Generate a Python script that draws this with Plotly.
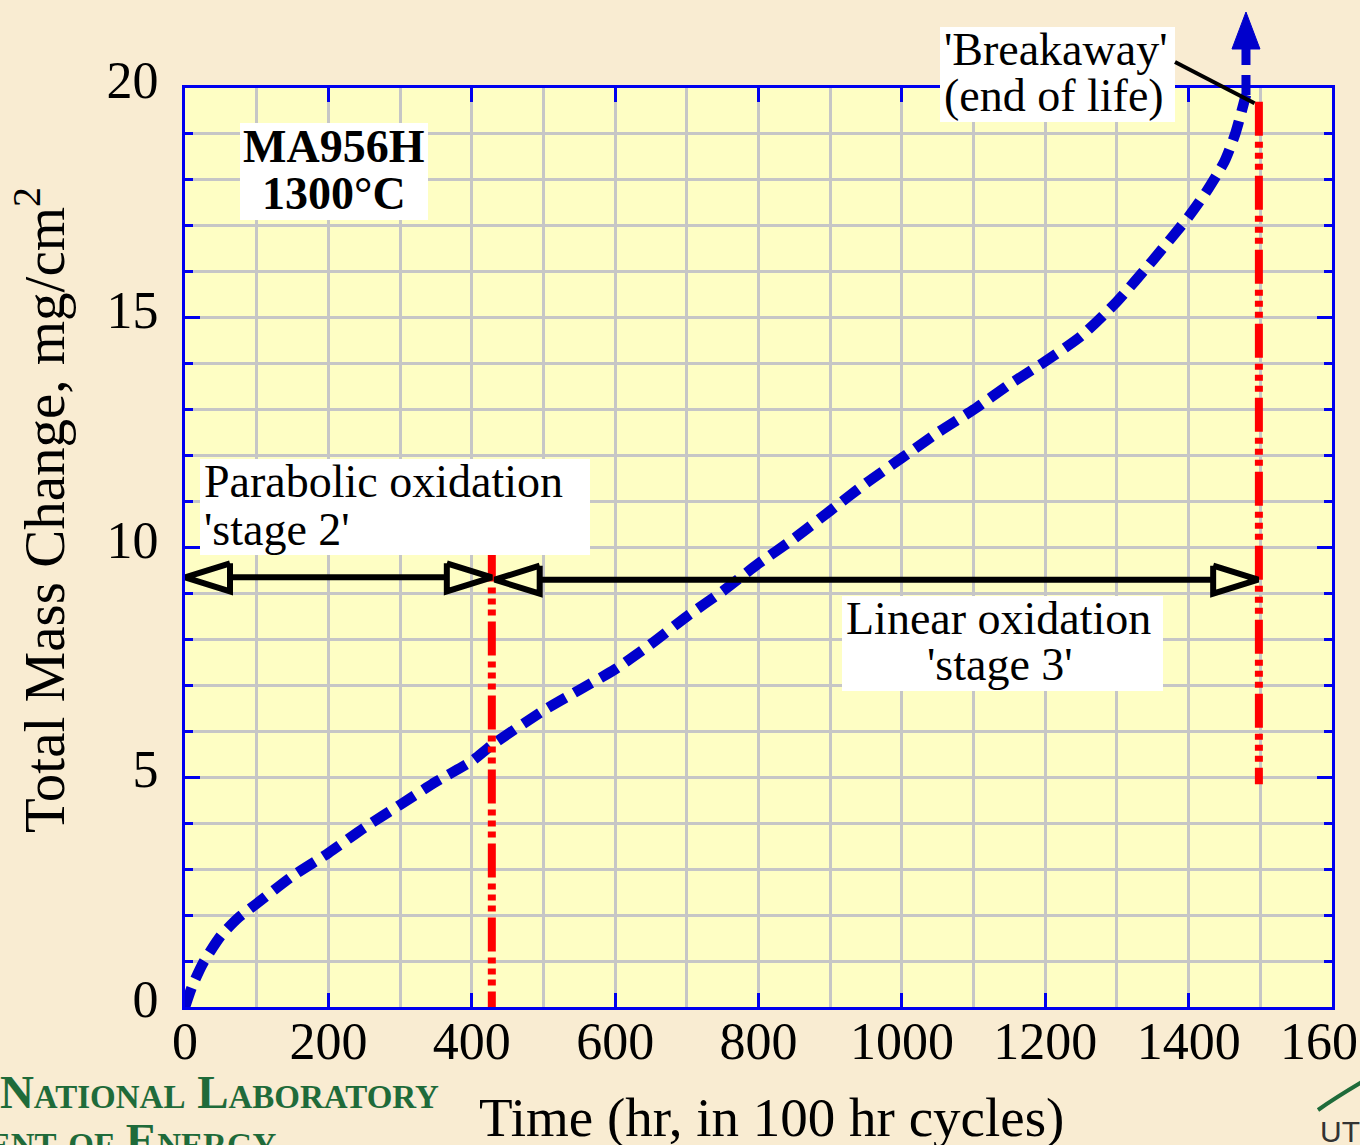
import plotly.graph_objects as go

# ---------------- data ----------------
time_hr = [0, 10, 25, 50, 75, 100, 150, 200, 250, 300, 350, 400, 428, 500, 550,
           600, 650, 700, 750, 800, 850, 900, 950, 1000, 1050, 1100, 1150, 1200,
           1250, 1300, 1350, 1400, 1425, 1450, 1465, 1480]
mass_change = [0, 0.45, 0.95, 1.55, 1.95, 2.25, 2.85, 3.35, 3.9, 4.4, 4.9, 5.35, 5.7,
               6.45, 6.9, 7.35, 7.9, 8.5, 9.05, 9.65, 10.2, 10.8, 11.4, 11.95, 12.5,
               13.0, 13.55, 14.05, 14.6, 15.35, 16.25, 17.2, 17.75, 18.4, 19.0, 19.85]

breakaway_time = 1480          # curve heads off the chart here
breakaway_point = [1492, 19.67]  # where the label pointer touches
stage_bound_x = [428, 1498]
stage_bound_y0 = [0.0, 4.85]
stage_bound_y1 = [10.0, 19.7]
stage2_span = [0, 428]
stage2_y = 9.35
stage3_span = [432, 1497]
stage3_y = 9.3

x_ticks = [0, 200, 400, 600, 800, 1000, 1200, 1400, 1600]
y_ticks = [0, 5, 10, 15, 20]

# ---------------- styling helpers ----------------
FONT = "Liberation Serif, Times New Roman, serif"
L, T, W, H = 185, 88, 1147, 919
X_MAX, Y_MAX = 1600, 20
BLUE_AX = "#0000EE"
GRID = "#C6C6C6"


def px(xpix):
    return (xpix - L) / W


def py(ypix):
    return (T + H - ypix) / H


XU = X_MAX / W   # data units per pixel
YU = Y_MAX / H

fig = go.Figure()

# main curve
fig.add_trace(go.Scatter(
    x=time_hr, y=mass_change, mode="lines", line_shape="spline",
    line=dict(color="#0000CC", width=10.5, dash="20px,10px", smoothing=0.6),
    showlegend=False, hoverinfo="skip"))

# red stage boundaries
for xb, y0, y1 in zip(stage_bound_x, stage_bound_y0, stage_bound_y1):
    fig.add_trace(go.Scatter(
        x=[xb, xb], y=[y1, y0], mode="lines",
        line=dict(color="#FF0000", width=8,
                  dash="34px,6px,6px,5px,6px,5px,6px,6px"),
        showlegend=False, hoverinfo="skip"))


# double arrows with open triangular heads
def double_arrow(x0, x1, y):
    hl = 45 * XU
    hh = 14 * YU
    xs = [x0 + hl, x0, x0 + hl, x0 + hl, None,
          x0 + hl, x1 - hl, None,
          x1 - hl, x1, x1 - hl, x1 - hl]
    ys = [y + hh, y, y - hh, y + hh, None,
          y, y, None,
          y + hh, y, y - hh, y + hh]
    fig.add_trace(go.Scatter(
        x=xs, y=ys, mode="lines",
        line=dict(color="black", width=6),
        showlegend=False, hoverinfo="skip"))


double_arrow(stage2_span[0], stage2_span[1], stage2_y)
double_arrow(stage3_span[0], stage3_span[1], stage3_y)

shapes = []
# white label boxes (pixel positions)
boxes = [(240, 123, 428, 220), (200, 459, 590, 555),
         (842, 596, 1163, 691), (940, 27, 1175, 122)]
for x0, y0, x1, y1 in boxes:
    shapes.append(dict(type="rect", xref="paper", yref="paper",
                       x0=px(x0), x1=px(x1), y0=py(y1), y1=py(y0),
                       fillcolor="white", line=dict(width=0), layer="above"))

# breakaway continuation: dashed vertical line above the frame + arrowhead
shapes.append(dict(type="line", xref="x", yref="paper",
                   x0=breakaway_time, x1=breakaway_time,
                   y0=mass_change[-1] / Y_MAX, y1=py(49),
                   line=dict(color="#0000CC", width=9, dash="20px,10px"),
                   layer="above"))
hw = 14 * XU
shapes.append(dict(type="path", xref="x", yref="paper",
                   path=f"M{breakaway_time - hw},{py(49)} L{breakaway_time},{py(12)} "
                        f"L{breakaway_time + hw},{py(49)} Z",
                   fillcolor="#0000CC", line=dict(color="#0000CC", width=1),
                   layer="above"))
# pointer line from the label to the breakaway point
shapes.append(dict(type="line", xref="x", yref="paper",
                   x0=(1175 - L) * XU, y0=py(62),
                   x1=breakaway_point[0], y1=breakaway_point[1] / Y_MAX,
                   line=dict(color="black", width=4), layer="above"))
# little green swoosh of the logo
shapes.append(dict(type="path", xref="paper", yref="paper",
                   path=f"M{px(1318)},{py(1110)} Q{px(1335)},{py(1098)} {px(1362)},{py(1082)}",
                   line=dict(color="#1F6B3A", width=4), layer="above"))

annotations = []


def label(text, xpix, ypix, size=46, anchor="left", color="black", family=FONT):
    annotations.append(dict(
        text=text, xref="paper", yref="paper", x=px(xpix), y=py(ypix),
        xanchor=anchor, yanchor="middle", showarrow=False, borderpad=0,
        font=dict(family=family, size=size, color=color)))


label("<b>MA956H</b>", 334, 146, anchor="center")
label("<b>1300°C</b>", 334, 193, anchor="center")
label("Parabolic oxidation", 203, 481)
label("'stage 2'", 203, 529)
label("Linear oxidation", 998, 618, anchor="center")
label("'stage 3'", 1000, 664, anchor="center")
label("'Breakaway'", 943, 49)
label("(end of life)", 943, 95)

# axis titles
annotations.append(dict(
    text="Time (hr, in 100 hr cycles)", xref="paper", yref="paper",
    x=px(771), y=py(1117), xanchor="center", yanchor="middle", showarrow=False,
    font=dict(family=FONT, size=55, color="black")))
annotations.append(dict(
    text="Total Mass Change, mg/cm<sup>2</sup>", xref="paper", yref="paper",
    x=px(40), y=py(510), xanchor="center", yanchor="middle", showarrow=False,
    textangle=-90, font=dict(family=FONT, size=57, color="black")))

# slide footer (partly cut off, as on the slide)
sm = "<span style='font-size:33px'>"
label(f"<b>O{sm}AK</span> R{sm}IDGE</span> N{sm}ATIONAL</span> L{sm}ABORATORY</span></b>",
      440, 1092, size=47, anchor="right", color="#1F6B3A")
label(f"<b>U.S. D{sm}EPARTMENT</span> {sm}OF</span> E{sm}NERGY</span></b>",
      278, 1140, size=47, anchor="right", color="#1F6B3A")
label("UT", 1319, 1131, size=30, anchor="left", color="#333333",
      family="Liberation Sans, Arial, sans-serif")

fig.update_layout(
    width=1360, height=1145,
    margin=dict(l=L, r=1360 - L - W, t=T, b=1145 - T - H, pad=0),
    paper_bgcolor="#F9ECD2",
    plot_bgcolor="#FEFEC4",
    showlegend=False,
    shapes=shapes,
    annotations=annotations,
    font=dict(family=FONT, color="black"),
)

fig.update_xaxes(
    range=[0, X_MAX], tickvals=x_ticks, ticktext=[str(v) for v in x_ticks],
    ticks="inside", ticklen=14, tickwidth=3, tickcolor=BLUE_AX,
    showline=True, linecolor=BLUE_AX, linewidth=3, mirror="ticks",
    showgrid=True, gridcolor=GRID, gridwidth=3, zeroline=False,
    minor=dict(dtick=100, tick0=0, showgrid=True, gridcolor=GRID, gridwidth=3, ticks=""),
    tickfont=dict(family=FONT, size=52, color="black"),
    ticklabelstandoff=-13, ticklabeloverflow="allow",
    automargin=False, fixedrange=True)

fig.update_yaxes(
    range=[0, Y_MAX], tickvals=y_ticks, ticktext=[str(v) for v in y_ticks],
    ticks="inside", ticklen=15, tickwidth=3, tickcolor=BLUE_AX,
    showline=True, linecolor=BLUE_AX, linewidth=3, mirror="ticks",
    showgrid=True, gridcolor=GRID, gridwidth=3, zeroline=False,
    minor=dict(dtick=1, tick0=0, showgrid=True, gridcolor=GRID, gridwidth=3,
               ticks="inside", ticklen=8, tickwidth=3, tickcolor=BLUE_AX),
    tickfont=dict(family=FONT, size=52, color="black"),
    ticklabelshift=-8, ticklabelstandoff=13, ticklabeloverflow="allow",
    automargin=False, fixedrange=True)

fig.write_html("out.html")
